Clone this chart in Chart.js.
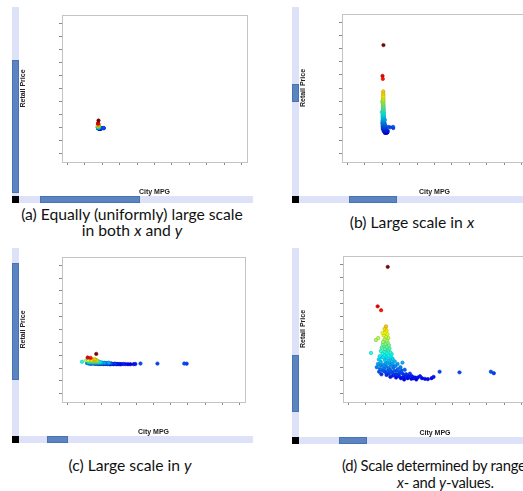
<!DOCTYPE html>
<html>
<head>
<meta charset="utf-8">
<script src="https://cdn.jsdelivr.net/npm/chart.js@4.4.0/dist/chart.umd.min.js"></script>
<style>
html, body { margin: 0; padding: 0; background: #fff; overflow: hidden; }
#fig { position: relative; width: 523px; height: 491px; overflow: hidden; }
.track { position: absolute; background: #dde2f8; }
.thumb { position: absolute; background: #5b84c3; border: 1px solid #4a72b0; box-sizing: border-box; }
.corner { position: absolute; background: #000; width: 7px; height: 7px; }
.cap { position: absolute; font-family: Lato, "Open Sans", sans-serif; font-size: 15.7px; line-height: 16px; text-align: center; color: #111; white-space: nowrap; }
.cap.left { text-align: left; font-size: 14.8px; letter-spacing: -0.25px; line-height: 17px; }
canvas { position: absolute; }
</style>
</head>
<body>
<div id="fig"></div>
<script>
// cars: city mpg vs retail price ($1000)
const cityMpg = [18.6,15.1,16.3,16.8,18.0,12.8,14.5,15.3,17.5,18.2,
    17.8,18.5,17.2,18.0,18.8,17.5,18.3,17.0,18.6,17.8,
    19.0,17.3,18.4,16.5,19.2,17.7,18.8,16.2,17.5,19.5,
    18.2,16.8,20.0,17.4,18.9,15.8,19.6,16.5,18.3,20.3,
    15.5,17.6,19.1,21.0,16.2,18.6,23.7,20.2,15.2,17.2,
    22.0,19.8,16.6,21.3,18.1,14.8,23.0,20.5,17.4,15.9,
    19.2,22.2,16.8,18.7,21.0,24.5,15.6,17.9,20.1,22.8,
    19.0,23.8,16.4,21.6,18.2,25.0,20.3,26.0,22.5,24.0,
    27.0,19.5,28.0,21.5,23.2,25.5,29.0,26.8,30.5,24.3,
    28.5,31.5,33.8,32.5,34.5,36.6,43.5,54.4,55.4,
    17.0,19.8,18.0,20.8,17.3,19.6,22.5,20.7,24.8,27.5,
    16.0,18.9,21.8,26.3,29.8,17.9,16.9,18.1,19.4,23.4,
    25.8];
const retailPrice = [196,135,129,94,104,63,83,86,100,98,
    95,92,90,88,86,84,82,80,79,77,
    75,74,72,71,70,69,67,66,65,64,
    63,62,61,60,59,58,57,56,55,54,
    53,52,51,50,49,48,48,47,46,45,
    46,44,43,43,42,41,41,40,39,38,
    38,38,36,36,35,37,34,33,33,33,
    31,31,30,30,29,30,28,28,27,26,
    27,26,25,25,24,24,25,23,24,22,
    22,23,24,22.5,26,34,33,34,31.7,
    57,53,47,42,35,35,31,29,27,24,
    44,40,36,31,27,68,76,58,46,36,
    26];

// unlabeled ticks: first tick value and step per panel (a, b, c, d)
const xFirstTick = [-195, -115.5, 6.9, 5];
const xTickStep = [120, 65, 7, 6];
const yFirstTick = [-516, -19, -474, 0];
const yTickStep = [280, 26, 216, 20];

const captions = [
    "(a) Equally (uniformly) large scale<br>in both <i>x</i> and <i>y</i>",
    "(b) Large scale in <i>x</i>",
    "(c) Large scale in <i>y</i>",
    "(d) Scale determined by range of<br><span style=\"margin-left:55px\"><i>x</i>- and <i>y</i>-values.</span>"
];

// layout of each panel (page pixels)
const panels = [
    { cv: [20, 7, 253, 196], plot: [62, 15, 247, 162], vt: [12, 7, 189], vth: [60, 133], ht: [19, 196, 234], hth: [40, 100], cap: [2, 206, 260, ""] },
    { cv: [300, 7, 533, 196], plot: [342, 14, 527, 162], vt: [292, 7, 189], vth: [84, 18], ht: [299, 196, 240], hth: [349, 48], cap: [282, 214, 260, ""] },
    { cv: [20, 249, 251, 436], plot: [62, 257, 245, 402], vt: [12, 248, 188], vth: [263, 117], ht: [19, 436, 234], hth: [47, 21], cap: [0, 457, 260, ""] },
    { cv: [300, 249, 533, 437], plot: [343, 256, 527, 402], vt: [292, 248, 189], vth: [355, 57], ht: [299, 437, 240], hth: [339, 28], cap: [342, 457, 260, " left"] },
];

let jet = (t) => {
    t = Math.max(0, Math.min(1, t));
    let c = (v) => Math.round(255 * Math.max(0, Math.min(1, v)));
    return [c(1.5 - Math.abs(4 * t - 3)), c(1.5 - Math.abs(4 * t - 2)), c(1.5 - Math.abs(4 * t - 1))];
};
let priceColor = (p, k) => {
    let [r, g, b] = jet((p - 5) / 145);
    return "rgb(" + Math.round(r * k) + "," + Math.round(g * k) + "," + Math.round(b * k) + ")";
};

// low prices first so the red ones sit on top
let order = retailPrice.map((p, i) => i).sort((a, b) => retailPrice[a] - retailPrice[b]);
let points = order.map((i) => ({ x: cityMpg[i], y: retailPrice[i] }));

const frame = {
    id: "frame",
    beforeDatasetsDraw(chart) {
        let a = chart.chartArea, c = chart.ctx;
        c.save();
        c.strokeStyle = "#c4c4c4";
        c.lineWidth = 1;
        c.strokeRect(Math.round(a.left) + 0.5, Math.round(a.top) + 0.5, Math.round(a.right - a.left), Math.round(a.bottom - a.top));
        c.restore();
    },
};

let fig = document.getElementById("fig");
let box = (cls, x, y, w, h) => {
    let d = document.createElement("div");
    d.className = cls;
    d.style.left = x + "px"; d.style.top = y + "px";
    d.style.width = w + "px"; d.style.height = h + "px";
    fig.appendChild(d);
    return d;
};

let axis = (first, step, padFrac, title, isX) => ({
    type: "linear",
    position: isX ? "bottom" : "left",
    min: first - padFrac * step,
    max: first + (10 + padFrac) * step,
    afterBuildTicks: (s) => {
        let t = [];
        for (let k = 0; k <= 10; k++) t.push({ value: first + k * step });
        s.ticks = t;
    },
    ticks: { display: false },
    grid: { display: true, drawOnChartArea: false, drawTicks: true, tickLength: 3, tickColor: "#888", tickWidth: 1 },
    border: { display: false },
    title: {
        display: true, text: title, color: "#222", padding: 0,
        font: { family: "Liberation Sans, Arial", size: 7, weight: "bold", lineHeight: 1 },
    },
});

panels.forEach((p, n) => {
    let [cl, ct, cr, cb] = p.cv;
    let [pl, pt, pr, pb] = p.plot;
    let cv = document.createElement("canvas");
    cv.width = cr - cl; cv.height = cb - ct;
    cv.style.left = cl + "px"; cv.style.top = ct + "px";
    fig.appendChild(cv);

    let xs = axis(xFirstTick[n], xTickStep[n], 0.32, "City MPG", true);
    xs.afterFit = (s) => { s.height = cb - pb; };
    let ys = axis(yFirstTick[n], yTickStep[n], 0.64, "Retail Price", false);
    ys.afterFit = (s) => { s.width = pl - cl; };

    new Chart(cv.getContext("2d"), {
        type: "scatter",
        data: {
            datasets: [{
                data: points,
                pointRadius: 1.7,
                borderWidth: 0.6,
                backgroundColor: points.map((q) => priceColor(q.y, 1)),
                borderColor: points.map((q) => priceColor(q.y, 0.75)),
            }],
        },
        options: {
            responsive: false,
            animation: false,
            layout: { padding: { top: pt - ct, right: cr - pr, left: 0, bottom: 0 } },
            plugins: { legend: { display: false }, tooltip: { enabled: false } },
            scales: { x: xs, y: ys },
        },
        plugins: [frame],
    });

    // scrollbars
    box("track", p.vt[0], p.vt[1], 7, p.vt[2]);
    box("thumb", p.vt[0], p.vth[0], 7, p.vth[1]);
    box("track", p.ht[0], p.ht[1], p.ht[2], 7);
    box("thumb", p.hth[0], p.ht[1], p.hth[1], 7);
    box("corner", p.vt[0], p.ht[1], 7, 7);

    let c = box("cap" + p.cap[3], p.cap[0], p.cap[1], p.cap[2], 34);
    c.innerHTML = captions[n];
});
</script>
</body>
</html>
